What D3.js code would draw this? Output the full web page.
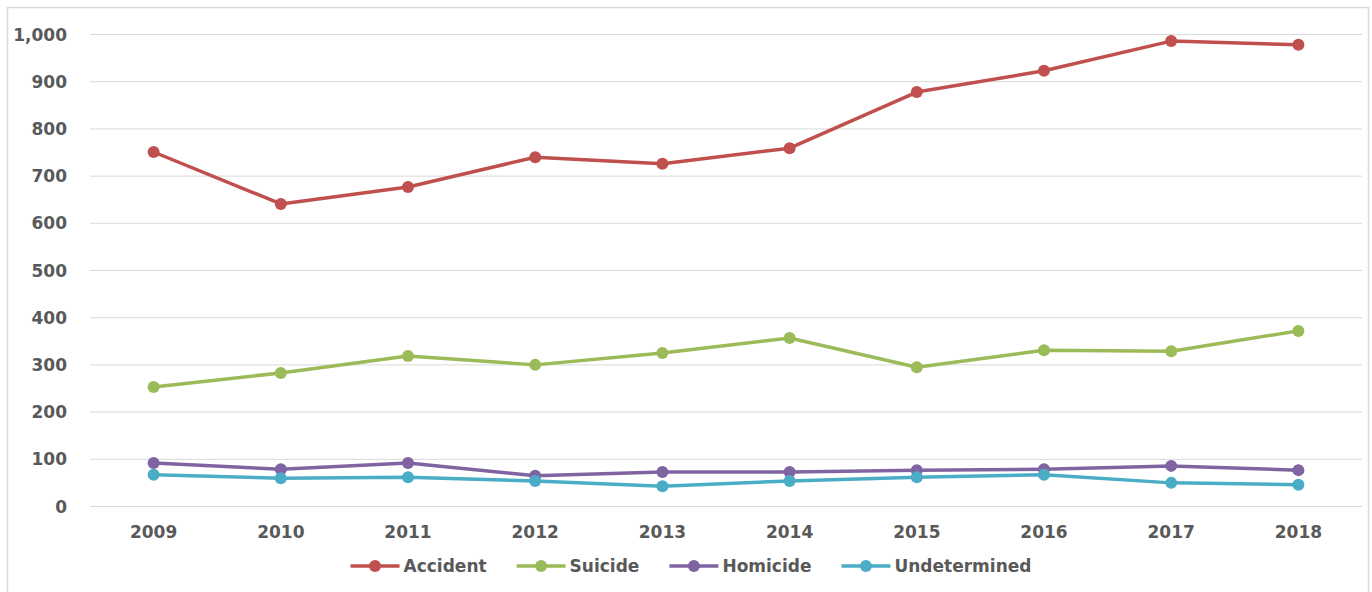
<!DOCTYPE html>
<html lang="en">
<head>
  <meta charset="UTF-8" />
  <title>Deaths by manner, 2009-2018</title>
  <style>
    body { margin: 0; background: #fff; }
    svg { display: block; font-family: "DejaVu Sans", Verdana, sans-serif; }
    .tick text, .legend text {
      fill: #595959;
      font-family: "DejaVu Sans", Verdana, sans-serif;
      font-weight: bold;
      font-size: 17px;
    }
  </style>
</head>
<body>
  <svg width="1372" height="592"></svg>
  <script src="https://d3js.org/d3.v7.min.js"></script>
  <script>
    const years = ["2009", "2010", "2011", "2012", "2013", "2014", "2015", "2016", "2017", "2018"];
    const accident = [750, 640, 676, 739, 725, 758, 877, 922, 985, 977];
    const suicide = [252, 282, 318, 299, 324, 356, 294, 330, 328, 371];
    const homicide = [91, 78, 91, 64, 72, 72, 76, 78, 85, 76];
    const undetermined = [66, 59, 61, 53, 42, 53, 61, 66, 49, 45];
    const yTicks = [0, 100, 200, 300, 400, 500, 600, 700, 800, 900, 1000];

    const series = [
      { name: "Accident", values: accident, color: "#c0504d" },
      { name: "Suicide", values: suicide, color: "#9bbb59" },
      { name: "Homicide", values: homicide, color: "#8064a2" },
      { name: "Undetermined", values: undetermined, color: "#4bacc6" }
    ];

    const svg = d3.select("svg");
    const width = 1372, height = 592;
    const margin = { left: 90, right: 10, top: 34, bottom: 86 };

    // chart border
    svg.append("rect")
      .attr("x", 7.5).attr("y", 7.5)
      .attr("width", width - 11).attr("height", height)
      .attr("fill", "none").attr("stroke", "#d9d9d9").attr("stroke-width", 1.5);

    const x = d3.scaleBand().domain(years).range([margin.left, width - margin.right]);
    const y = d3.scaleLinear().domain([0, 1000]).range([height - margin.bottom, margin.top]);

    // gridlines + y labels
    const yAxis = svg.append("g")
      .attr("transform", `translate(${margin.left},0)`)
      .call(d3.axisLeft(y).tickValues(yTicks).tickFormat(d3.format(","))
        .tickSize(-(width - margin.left - margin.right)).tickPadding(23));
    yAxis.select(".domain").remove();
    yAxis.selectAll(".tick line").attr("stroke", "#d9d9d9");
    yAxis.selectAll(".tick text").attr("dy", "0.36em");

    const xAxis = svg.append("g")
      .attr("transform", `translate(0,${height - margin.bottom})`)
      .call(d3.axisBottom(x).tickSize(0).tickPadding(20));
    xAxis.select(".domain").remove();

    const line = d3.line()
      .x((d, i) => x(years[i]) + x.bandwidth() / 2)
      .y(d => y(d));

    series.forEach(s => {
      const g = svg.append("g");
      g.append("path")
        .attr("d", line(s.values))
        .attr("fill", "none")
        .attr("stroke", s.color)
        .attr("stroke-width", 3.5)
        .attr("stroke-linejoin", "round");
      g.selectAll("circle")
        .data(s.values).enter().append("circle")
        .attr("cx", (d, i) => x(years[i]) + x.bandwidth() / 2)
        .attr("cy", d => y(d))
        .attr("r", 6)
        .attr("fill", s.color);
    });

    // legend
    const legend = svg.append("g").attr("class", "legend");
    const legendY = 566;
    const items = legend.selectAll("g").data(series).enter().append("g");
    items.append("line")
      .attr("x1", 0).attr("x2", 49)
      .attr("y1", 0).attr("y2", 0)
      .attr("stroke", d => d.color).attr("stroke-width", 3.5);
    items.append("circle")
      .attr("cx", 24.5).attr("cy", 0).attr("r", 6)
      .attr("fill", d => d.color);
    items.append("text")
      .attr("x", 53).attr("dy", "0.36em")
      .text(d => d.name);

    let widths = [];
    items.each(function () { widths.push(this.getBBox().width); });
    const gap = 30;
    const total = d3.sum(widths) + gap * (widths.length - 1);
    let cx = width / 2 + 5 - total / 2;
    items.attr("transform", (d, i) => {
      const t = `translate(${cx},${legendY})`;
      cx += widths[i] + gap;
      return t;
    });
  </script>
</body>
</html>
